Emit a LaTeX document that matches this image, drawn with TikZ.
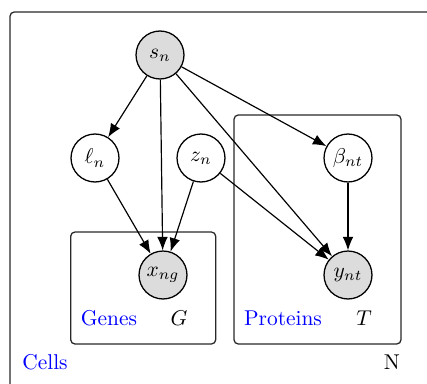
\documentclass[tikz,border=0pt]{standalone}
\usetikzlibrary{arrows.meta}
\definecolor{obsgray}{RGB}{220,220,220}
\definecolor{platecol}{RGB}{40,40,40}
\begin{document}
\begin{tikzpicture}[x=0.467pt,y=-0.467pt,
  latent/.style={circle,draw,line width=0.6pt,minimum size=22.4pt,inner sep=0pt,fill=white},
  obs/.style={latent,fill=obsgray},
  plate/.style={draw=platecol,line width=0.6pt,rounded corners=2pt},
  edge/.style={-{Latex[length=6.3pt,width=5pt]},line width=0.55pt},
  platelbl/.style={text=blue,inner sep=0pt,anchor=base},
  dimlbl/.style={inner sep=0pt,anchor=base}]
\useasboundingbox (0,0) rectangle (427,383);
\clip (0,0) rectangle (427,383);
% outer plate
\draw[plate] (10,12) rectangle (450,410);
\draw[plate] (70.7,232) rectangle (215.7,344);
\draw[plate] (234,115) rectangle (401,344);
% nodes
\node[obs] (s) at (160,55) {$s_n$};
\node[latent] (l) at (95,158) {$\ell_n$};
\node[latent] (z) at (201,158) {$z_n$};
\node[latent] (b) at (348,158) {$\beta_{nt}$};
\node[obs] (x) at (163,275) {$x_{ng}$};
\node[obs] (y) at (348,275) {$y_{nt}$};
% labels
\node[platelbl] (gl) at (109,325) {Genes};
\node[dimlbl] (gd) at (179,325) {$G$};
\node[platelbl] (pl) at (283,325) {Proteins};
\node[dimlbl] (pd) at (364,325) {$T$};
\node[platelbl] (cl) at (45,369) {Cells};
\node[dimlbl] (nd) at (392,369) {N};
% edges
\draw[edge] (s) -- (l);
\draw[edge] (s) -- (x);
\draw[edge] (s) -- (b);
\draw[edge] (s) -- (y);
\draw[edge] (l) -- (x);
\draw[edge] (z) -- (x);
\draw[edge] (z) -- (y);
\draw[edge] (b) -- (y);
\end{tikzpicture}
\end{document}
